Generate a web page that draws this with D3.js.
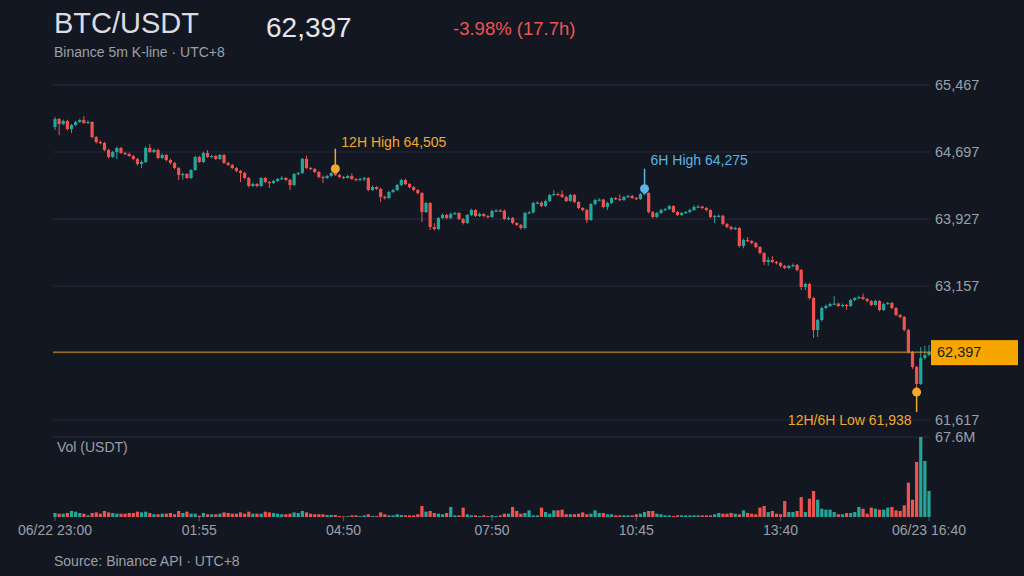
<!DOCTYPE html>
<html>
<head>
<meta charset="utf-8">
<script src="https://cdn.jsdelivr.net/npm/d3@7"></script>
<style>
  body { margin: 0; background: #131722; }
  svg { display: block; font-family: "Liberation Sans", Arial, sans-serif; }
</style>
</head>
<body>
<svg id="chart" width="1024" height="576"></svg>
<script>
// 5m candles, 06/22 23:00 -> 06/23 16:40 (UTC+8 wall clock)
const START = "2024-06-22T23:00:00Z"
const STEP = 5 * 60 * 1000
const firstOpen = 64984

const closes = [
  65076,65019,65053,64961,65007,65042,65065,65030,65042,64869,
  64812,64800,64720,64640,64697,64743,64686,64674,64651,64617,
  64559,64582,64743,64697,64720,64628,64663,64605,64571,64513,
  64433,64444,64398,64490,64640,64582,64686,64640,64651,64617,
  64663,64571,64548,64513,64479,64456,64398,64306,64329,64306,
  64398,64352,64341,64364,64387,64398,64375,64318,64444,64456,
  64617,64513,64502,64467,64410,64398,64421,64456,64433,64410,
  64398,64421,64387,64375,64387,64398,64260,64295,64272,64180,
  64168,64237,64260,64318,64375,64329,64295,64260,64226,64007,
  64111,63835,63812,63938,63973,63938,63984,63996,63927,63881,
  63973,64030,63961,63984,63961,63950,64019,64025,64022,63927,
  63938,63881,63858,63823,63996,64002,64111,64115,64076,64134,
  64203,64214,64210,64180,64134,64203,64122,64053,64030,63915,
  64099,64145,64150,64065,64111,64168,64157,64145,64180,64191,
  64168,64157,64214,64226,64007,63950,63996,64030,64042,64076,
  64007,63973,63996,64007,64030,64065,64070,64053,64030,63950,
  63961,63965,63869,63835,63812,63823,63617,63686,63674,63651,
  63605,63536,63433,63456,63433,63421,63387,63364,63387,63398,
  63341,63145,63180,63019,62651,62766,62904,62927,62950,62955,
  62927,62939,62927,62996,63019,63030,63008,62985,62939,62985,
  62881,62950,62962,62904,62824,62801,62651,62398,62226,62031,
  62329,62364,62397
]

const highs = [
  65100,65090,65070,65068,65020,65055,65080,65110,65060,65050,
  64880,64830,64815,64735,64710,64760,64755,64700,64690,64665,
  64630,64600,64760,64790,64735,64735,64680,64675,64620,64585,
  64525,64460,64455,64500,64655,64655,64700,64720,64665,64665,
  64675,64675,64585,64560,64525,64490,64470,64410,64345,64340,
  64410,64410,64365,64380,64400,64420,64410,64390,64455,64470,
  64630,64655,64525,64515,64480,64425,64435,64470,64505,64445,
  64420,64435,64450,64395,64400,64410,64410,64310,64305,64285,
  64195,64250,64275,64330,64390,64390,64340,64305,64270,64235,
  64125,64120,63880,63950,63990,63985,64000,64010,64005,63940,
  63985,64045,64040,64000,63995,63975,64035,64040,64040,64035,
  63955,63950,63890,63870,64010,64020,64125,64130,64130,64150,
  64215,64260,64230,64255,64195,64215,64215,64135,64065,64045,
  64110,64160,64165,64160,64125,64180,64180,64210,64195,64205,
  64205,64180,64225,64275,64235,64020,64010,64045,64055,64090,
  64085,64020,64010,64020,64045,64085,64085,64080,64065,64040,
  63975,63980,63975,63880,63850,63840,63835,63700,63720,63685,
  63665,63615,63545,63490,63500,63445,63435,63400,63400,63415,
  63410,63355,63195,63195,63030,62780,62920,62945,62965,63040,
  62965,62955,62950,63010,63030,63045,63070,63020,62995,63000,
  62995,62965,62975,62975,62915,62835,62815,62665,62410,62240,
  62455,62470,62479
]

const lows = [
  64950,64890,65005,64945,64915,64995,65030,65020,65020,64855,
  64795,64785,64705,64625,64630,64617,64675,64660,64640,64600,
  64540,64510,64570,64685,64685,64615,64615,64590,64555,64500,
  64375,64380,64385,64385,64480,64570,64570,64630,64630,64605,
  64605,64560,64535,64500,64465,64352,64385,64290,64295,64290,
  64295,64340,64283,64330,64350,64375,64360,64260,64305,64430,
  64445,64500,64490,64455,64395,64341,64385,64410,64420,64395,
  64385,64390,64375,64360,64365,64360,64245,64250,64260,64122,
  64150,64155,64225,64250,64305,64315,64280,64245,64210,63893,
  63995,63800,63795,63800,63925,63925,63925,63975,63915,63865,
  63870,63960,63950,63950,63945,63935,63940,64005,64008,63915,
  63910,63865,63845,63805,63810,63985,63990,64100,64065,64065,
  64120,64195,64195,64170,64120,64125,64110,64040,64015,63881,
  63905,64085,64130,64050,64030,64100,64145,64130,64135,64170,
  64155,64145,64145,64200,63990,63935,63940,63985,64020,64030,
  63995,63960,63960,63985,63995,64020,64055,64040,64015,63935,
  63881,63945,63855,63820,63795,63800,63600,63590,63660,63635,
  63590,63520,63400,63390,63420,63405,63370,63350,63350,63375,
  63325,63111,63110,63000,62559,62571,62750,62890,62915,62940,
  62915,62915,62881,62915,62985,63005,62995,62970,62925,62925,
  62865,62870,62940,62890,62810,62785,62635,62380,62205,61938,
  62020,62310,62350
]

// quote volume, million USDT
const volumes = [
  3.4,2.8,2.8,3.4,5.1,4.5,3.4,2.8,1.4,3.4,
  3.9,2.8,5.1,3.9,3.4,2.8,2.8,2.8,3.4,3.4,
  4.5,3.9,4.5,3.4,2.3,2.3,2.8,2.8,3.4,2.3,
  5.1,3.4,4.5,2.8,2.8,1.1,3.4,2.3,2.3,2.3,
  2.8,3.9,3.4,2.8,2.8,3.9,2.8,4.5,2.8,2.8,
  2.8,4.5,3.9,3.4,2.8,2.3,2.3,2.8,3.9,3.4,
  5.1,3.9,2.8,2.3,2.3,2.3,1.7,1.7,1.7,0.8,
  0.6,0.8,1.4,1.4,0.8,1.4,2.3,0.8,0.8,3.9,
  2.3,1.4,1.4,2.3,1.7,1.4,1.4,1.4,2.3,9.3,
  4.5,5.1,3.4,2.8,2.3,3.4,8.5,1.4,1.4,7.9,
  2.3,1.4,1.4,0.8,1.4,0.8,1.4,0.8,1.4,2.8,
  2.8,8.5,5.1,2.8,3.4,5.6,1.4,1.4,7.9,4.2,
  2.8,5.6,5.6,6.2,2.3,2.3,2.3,2.8,3.9,2.3,
  2.8,5.6,3.4,3.4,2.3,2.3,1.4,1.4,1.4,1.4,
  1.4,2.3,2.8,4.2,5.1,5.1,2.8,2.3,1.4,1.4,
  0.8,1.4,1.4,1.4,1.4,1.4,1.4,1.4,1.4,1.4,
  2.3,3.4,2.8,2.8,3.4,2.8,2.3,5.6,3.4,2.8,
  2.3,7.9,9.3,4.2,5.1,2.8,2.3,13.5,4.2,4.2,
  5.1,16.9,4.2,15.5,22.0,14.6,7.0,6.2,6.2,4.2,
  2.3,2.3,3.4,3.4,4.2,8.5,7.0,2.8,7.9,7.0,
  6.2,6.2,7.9,8.5,5.6,5.1,9.9,29.0,14.6,46.5,
  67.6,47.3,22.0
]

const priceTicks = [61617, 62387, 63157, 63927, 64697, 65467]
const volMax = 67.6
const tickTimes = ["2024-06-22T23:00:00Z", "2024-06-23T01:55:00Z", "2024-06-23T04:50:00Z",
  "2024-06-23T07:50:00Z", "2024-06-23T10:45:00Z", "2024-06-23T13:40:00Z", "2024-06-23T16:40:00Z"]
const tickLabels = ["06/22 23:00", "01:55", "04:50", "07:50", "10:45", "13:40", "06/23 16:40"]

const UP = "#26a69a", DOWN = "#ef5350", GRID = "#262b36", TXT = "#9aa0a8", GOLD = "#f0a92a", BLUE = "#5ab4e5"

const t0 = new Date(START).getTime()
const candles = closes.map((c, i) => ({
  t: new Date(t0 + i * STEP),
  o: i ? closes[i - 1] : firstOpen,
  h: highs[i], l: lows[i], c: c, v: volumes[i]
}))
const last = candles[candles.length - 1]

const svg = d3.select("#chart")
const fmt = d3.format(",")

const x = d3.scaleTime().domain([candles[0].t, last.t]).range([55, 929])
const y = d3.scaleLinear().domain([61617, 65467]).range([420, 85])
const yv = d3.scaleLinear().domain([0, volMax]).range([517, 437])

// header
svg.append("text").attr("x", 54).attr("y", 33).attr("fill", "#d9dce1")
  .attr("font-size", 29).text("BTC/USDT")
svg.append("text").attr("x", 54).attr("y", 57).attr("fill", TXT)
  .attr("font-size", 14).text("Binance 5m K-line · UTC+8")
svg.append("text").attr("x", 266).attr("y", 37).attr("fill", "#e3e6ea")
  .attr("font-size", 28).text(fmt(last.c))
let pct = (last.c - firstOpen) / firstOpen * 100
let hrs = (last.t - candles[0].t) / 3600000
svg.append("text").attr("x", 453).attr("y", 35).attr("fill", DOWN)
  .attr("font-size", 18.5).text(`${pct.toFixed(2)}% (${hrs.toFixed(1)}h)`)

// price grid + labels
svg.append("g").selectAll("line").data(priceTicks).join("line")
  .attr("x1", 53).attr("x2", 930)
  .attr("y1", d => y(d)).attr("y2", d => y(d))
  .attr("stroke", GRID).attr("stroke-width", 1)
svg.append("g").selectAll("text").data(priceTicks).join("text")
  .attr("x", 935).attr("y", d => y(d)).attr("dy", "0.35em")
  .attr("fill", TXT).attr("font-size", 14.5).text(d => fmt(d))

// volume panel
svg.append("line").attr("x1", 53).attr("x2", 930).attr("y1", yv(volMax)).attr("y2", yv(volMax))
  .attr("stroke", GRID)
svg.append("text").attr("x", 935).attr("y", yv(volMax)).attr("dy", "0.35em")
  .attr("fill", TXT).attr("font-size", 14.5).text(volMax + "M")
svg.append("text").attr("x", 57).attr("y", 452).attr("fill", TXT)
  .attr("font-size", 14).text("Vol (USDT)")

svg.append("g").selectAll("rect").data(candles).join("rect")
  .attr("x", d => x(d.t) - 1.6).attr("width", 3.2)
  .attr("y", d => yv(d.v)).attr("height", d => yv(0) - yv(d.v))
  .attr("fill", d => d.c >= d.o ? UP : DOWN)

// x axis
const xt = tickTimes.map(s => new Date(s))
svg.append("g").selectAll("line").data(xt).join("line")
  .attr("x1", d => x(d)).attr("x2", d => x(d)).attr("y1", 517).attr("y2", 521)
  .attr("stroke", "#555b66")
svg.append("g").selectAll("text").data(xt).join("text")
  .attr("x", d => x(d)).attr("y", 535).attr("text-anchor", "middle")
  .attr("fill", TXT).attr("font-size", 14).text((d, i) => tickLabels[i])

svg.append("text").attr("x", 54).attr("y", 566).attr("fill", TXT)
  .attr("font-size", 14).text("Source: Binance API · UTC+8")

// candles
const cg = svg.append("g")
cg.selectAll("line").data(candles).join("line")
  .attr("x1", d => x(d.t)).attr("x2", d => x(d.t))
  .attr("y1", d => y(d.h)).attr("y2", d => y(d.l))
  .attr("stroke", d => d.c >= d.o ? UP : DOWN).attr("stroke-width", 1)
cg.selectAll("rect").data(candles).join("rect")
  .attr("x", d => x(d.t) - 1.6).attr("width", 3.2)
  .attr("y", d => y(Math.max(d.o, d.c)))
  .attr("height", d => Math.max(1.2, Math.abs(y(d.o) - y(d.c))))
  .attr("fill", d => d.c >= d.o ? UP : DOWN)

// last price line + tag
svg.append("line").attr("x1", 53).attr("x2", 931).attr("y1", y(last.c)).attr("y2", y(last.c))
  .attr("stroke", "#d99a1e").attr("stroke-width", 1)
svg.append("rect").attr("x", 931).attr("y", y(last.c) - 12).attr("width", 87).attr("height", 25)
  .attr("fill", "#f7a600")
svg.append("text").attr("x", 937).attr("y", y(last.c)).attr("dy", "0.35em")
  .attr("fill", "#1b1b1b").attr("font-size", 14.5).text(fmt(last.c))

// window highs / lows
const endT = last.t.getTime()
const win = h => candles.filter(d => d.t.getTime() >= endT - h * 3600000)
const hi12 = d3.greatest(win(12), d => d.h)
const hi6 = d3.greatest(win(6), d => d.h)
const lo12 = d3.least(win(12), d => d.l)

function marker(d, val, color, up, label, anchor, dx, ty) {
  let cx = x(d.t), cy = y(val)
  let y2 = up ? cy - 20 : cy + 20
  svg.append("line").attr("x1", cx).attr("x2", cx).attr("y1", cy).attr("y2", y2)
    .attr("stroke", color).attr("stroke-width", 1.5)
  svg.append("circle").attr("cx", cx).attr("cy", cy).attr("r", 4.5).attr("fill", color)
  svg.append("text").attr("x", cx + dx).attr("y", ty).attr("text-anchor", anchor)
    .attr("fill", color).attr("font-size", 14).text(label)
}
marker(hi12, hi12.h, GOLD, true, `12H High ${fmt(hi12.h)}`, "start", 6, y(hi12.h) - 22)
marker(hi6, hi6.h, BLUE, true, `6H High ${fmt(hi6.h)}`, "start", 6, y(hi6.h) - 24)
marker(lo12, lo12.l, GOLD, false, `12H/6H Low ${fmt(lo12.l)}`, "end", -5, y(lo12.l) + 33)
</script>
</body>
</html>
